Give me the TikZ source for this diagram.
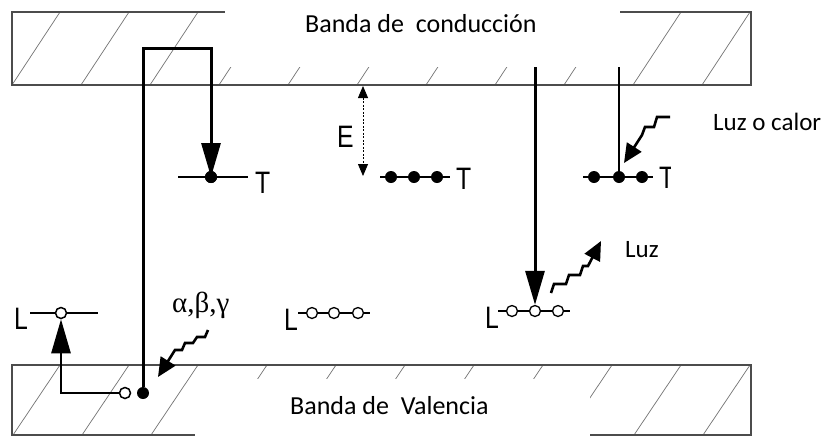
\documentclass[tikz,border=0pt]{standalone}
\usepackage{fontspec}
\setmainfont{Carlito}
\newfontfamily\helvfont{Liberation Sans}
\newfontfamily\timesfont{Liberation Serif}
\usetikzlibrary{arrows.meta}
\newcommand\narrowlet[1]{{\helvfont\fontsize{31}{31}\selectfont\scalebox{0.8}[1]{#1}}}
\tikzset{
  bandline/.style={draw=black!70, line width=1.4pt},
  hatchline/.style={draw=black!55, line width=0.7pt},
  mainline/.style={draw=black, line width=3pt},
  levelline/.style={draw=black, line width=2.4pt},
  thinlevel/.style={draw=black, line width=1.8pt},
  bigtip/.style={-{Triangle[length=34pt,width=19pt]}},
  wavyarrow/.style={draw=black, line width=2.6pt, line join=miter, -{Triangle[length=19pt,width=17pt]}},
  edot/.style={circle, fill=black, inner sep=0pt, minimum size=12pt},
  hdot/.style={circle, draw=black, fill=white, line width=1.5pt, inner sep=0pt, minimum size=11pt},
  sdot/.style={circle, draw=black, fill=white, line width=1.3pt, inner sep=0pt, minimum size=11pt},
  letter/.style={inner sep=0pt, anchor=base west},
  txt/.style={inner sep=0pt, anchor=base west, font=\fontsize{26}{30}\selectfont},
  txtsmall/.style={inner sep=0pt, anchor=base west, font=\fontsize{25}{30}\selectfont},
}
\begin{document}
\begin{tikzpicture}[x=1pt,y=-1pt]
\useasboundingbox (0,0) rectangle (832,437);
\fill[white] (0,0) rectangle (832,437);
% conduction band
\begin{scope}
  \clip (12,12) rectangle (751,85);
  \foreach \k in {0,...,10} \draw[hatchline] (12+69*\k,85) -- ++(48,-73);
\end{scope}
\draw[bandline] (12,12) rectangle (751,85);
\fill[white] (225,-1) rectangle (620,67);
\node[txt] (cbtext) at (305,32) {Banda de\ \ conducción};
% valence band
\begin{scope}
  \clip (12,365) rectangle (751,435);
  \foreach \k in {0,...,10} \draw[hatchline] (13+69*\k,435) -- ++(47,-70);
\end{scope}
\draw[bandline] (12,365) rectangle (751,435);
\fill[white] (195,379) rectangle (590,438);
\node[txt] (vbtext) at (290,414) {Banda de\ \ Valencia};

% ---------- left T (trap) ----------
\draw[levelline] (178,177) -- (248,177);
\node[edot] (t1) at (211,177) {};
\node[letter] (T1) at (255,193) {\narrowlet{T}};

% ---------- middle T with E ----------
\draw[levelline] (380,177) -- (450,177);
\node[edot] (t2a) at (391,177) {};
\node[edot] (t2b) at (414,177) {};
\node[edot] (t2c) at (437,177) {};
\node[letter] (T2) at (456,189) {\narrowlet{T}};
\coordinate (etop) at (363,86);
\coordinate (ebot) at (363,176);
\draw[line width=0.8pt, dash pattern=on 2pt off 1.5pt, {Triangle[length=12pt,width=10pt]}-{Triangle[length=12pt,width=10pt]}] (etop) -- (ebot);
\node[letter] (Elab) at (337,147) {\narrowlet{E}};

% ---------- right T ----------
\coordinate (c3) at (619,67);
\draw[draw=black, line width=2.4pt] (c3) -- (619,177);
\draw[levelline] (583,177) -- (653,177);
\node[edot] (t3a) at (594,177) {};
\node[edot] (t3b) at (619,177) {};
\node[edot] (t3c) at (642,177) {};
\node[letter] (T3) at (659,188) {\narrowlet{T}};
\fill[white] (671,88) rectangle (832,200);
\coordinate (w1) at (670,117);
\draw[wavyarrow] (w1) -- (657,117) -- (654,127) -- (645,127) -- (642,135) -- (624,163);
\node[txtsmall] (luzcalor) at (713,130) {Luz o calor};

% ---------- valence electron / hole ----------
\node[hdot] (hv) at (125,393) {};
\node[edot] (ev) at (143,393) {};
\coordinate (k1) at (143,48);
\coordinate (k2) at (211,48);
\draw[mainline, bigtip] (ev.north) -- (k1) -- (k2) -- (t1.center);
\node[edot] at (t1) {};

% left L
\draw[levelline] (30,313) -- (98,313);
\node[hdot] (l1) at (61,313) {};
\node[letter] (L1) at (14,329) {\narrowlet{L}};
\coordinate (k3) at (61,393);
\draw[mainline, line width=2.6pt, bigtip] (hv.west) -- (k3) -- (l1.south);

% alpha beta gamma
\node[inner sep=0pt, anchor=base west, font=\timesfont\fontsize{29}{30}\selectfont] (abg) at (172,312) {α,β,γ};
\coordinate (w2) at (208,330);
\draw[wavyarrow] (w2) -- (205,337) -- (197,337) -- (193,343) -- (185,343) -- (182,350) -- (175,350) -- (158,377);

% middle L
\draw[thinlevel] (298,313) -- (370,313);
\node[sdot] (l2a) at (312,313) {};
\node[sdot] (l2b) at (334,313) {};
\node[sdot] (l2c) at (358,313) {};
\node[letter] (L2) at (284,330) {\narrowlet{L}};

% right L
\draw[thinlevel] (498,311) -- (570,311);
\node[sdot] (l3a) at (512,311) {};
\node[sdot] (l3b) at (535,311) {};
\node[sdot] (l3c) at (558,311) {};
\node[letter] (L3) at (485,328) {\narrowlet{L}};
\coordinate (c4) at (535,67);
\draw[mainline, bigtip] (c4) -- (l3b.north);
\coordinate (w3) at (551,293);
\draw[wavyarrow] (w3) -- (554,284) -- (566,284) -- (569,275) -- (580,275) -- (583,266) -- (588,266) -- (601,241);
\node[txtsmall] (luz) at (625,257) {Luz};
\end{tikzpicture}
\end{document}
